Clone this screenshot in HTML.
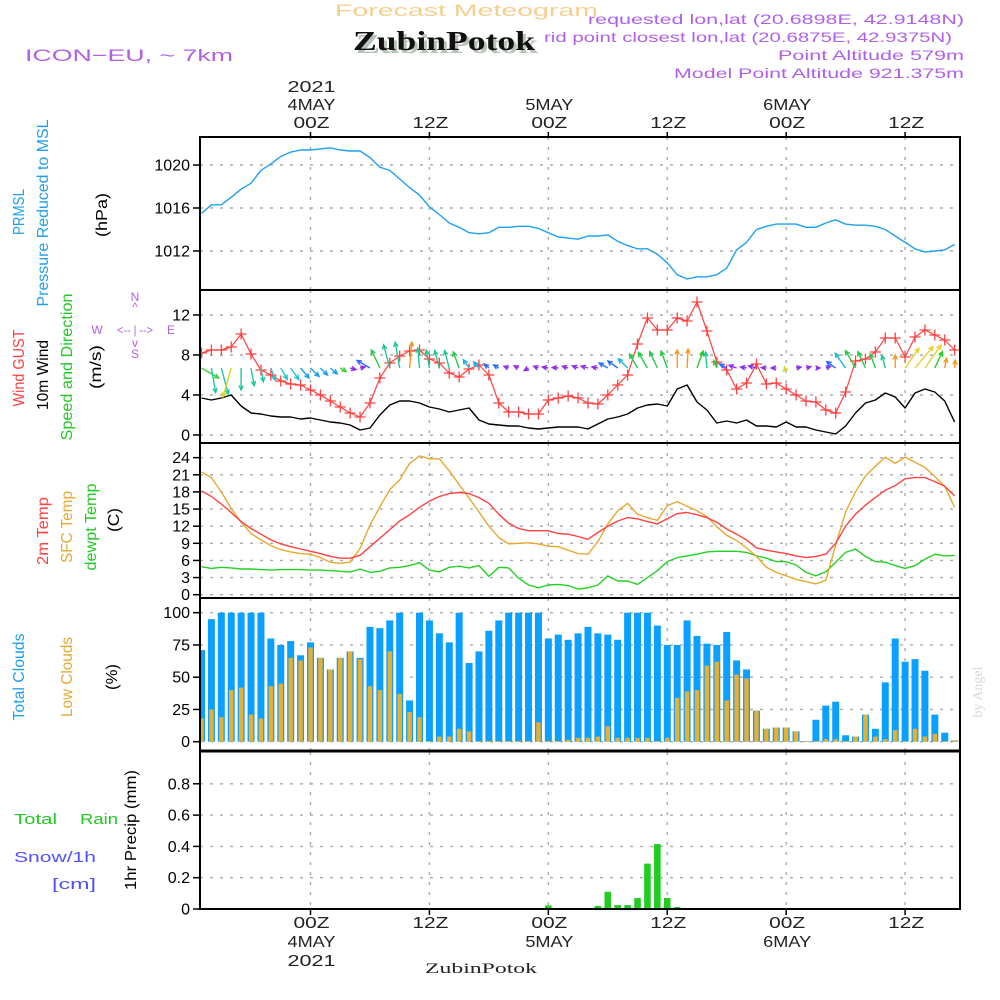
<!DOCTYPE html>
<html><head><meta charset="utf-8"><title>Meteogram ZubinPotok</title>
<style>
html,body{margin:0;padding:0;background:#fff;}
svg{display:block;font-family:"Liberation Sans",sans-serif;}
</style></head>
<body>
<svg id="chart" width="1000" height="1000" viewBox="0 0 1000 1000" xmlns="http://www.w3.org/2000/svg">
  <defs>
    <clipPath id="cp1"><rect x="200" y="137" width="760" height="153"/></clipPath>
    <clipPath id="cp2"><rect x="200" y="290" width="760" height="153"/></clipPath>
    <clipPath id="cp3"><rect x="200" y="443" width="760" height="155"/></clipPath>
    <clipPath id="cp4"><rect x="200" y="598" width="760" height="153"/></clipPath>
    <clipPath id="cp5"><rect x="200" y="752" width="760" height="157"/></clipPath>
  </defs>
  <!-- header -->
  <text x="335" y="16" fill="#f5cf8e" font-size="17" textLength="263" lengthAdjust="spacingAndGlyphs">Forecast Meteogram</text>
  <text x="356" y="53" fill="#b8c4b8" font-family="Liberation Serif, serif" font-weight="bold" font-size="27" textLength="182" lengthAdjust="spacingAndGlyphs">ZubinPotok</text>
  <text x="25" y="61" fill="#b060e8" font-size="17" textLength="208" lengthAdjust="spacingAndGlyphs">ICON−EU, ~ 7km</text>
  <text x="964" y="24" text-anchor="end" fill="#b060e8" font-size="14" textLength="376" lengthAdjust="spacingAndGlyphs">requested lon,lat (20.6898E, 42.9148N)</text>
  <text x="952" y="42" text-anchor="end" fill="#b060e8" font-size="14" textLength="408" lengthAdjust="spacingAndGlyphs">rid point closest lon,lat (20.6875E, 42.9375N)</text>
  <text x="964" y="60" text-anchor="end" fill="#b060e8" font-size="14" textLength="186" lengthAdjust="spacingAndGlyphs">Point Altitude 579m</text>
  <text x="964" y="78" text-anchor="end" fill="#b060e8" font-size="14" textLength="290" lengthAdjust="spacingAndGlyphs">Model Point Altitude 921.375m</text>
  <text x="353" y="50" fill="#111" font-family="Liberation Serif, serif" font-weight="bold" font-size="27" textLength="182" lengthAdjust="spacingAndGlyphs">ZubinPotok</text>

  <!-- left panel labels -->
  <g font-size="16">
    <text transform="translate(24,212) rotate(-90)" text-anchor="middle" fill="#1ea0f0" textLength="46" lengthAdjust="spacingAndGlyphs">PRMSL</text>
    <text transform="translate(48,213) rotate(-90)" text-anchor="middle" fill="#1ea0f0" textLength="187" lengthAdjust="spacingAndGlyphs">Pressure Reduced to MSL</text>
    <text transform="translate(107,215) rotate(-90)" text-anchor="middle" fill="#000" textLength="44" lengthAdjust="spacingAndGlyphs">(hPa)</text>
    <text transform="translate(24,368) rotate(-90)" text-anchor="middle" fill="#ff4040" textLength="77" lengthAdjust="spacingAndGlyphs">Wind GUST</text>
    <text transform="translate(48,375) rotate(-90)" text-anchor="middle" fill="#000" textLength="70" lengthAdjust="spacingAndGlyphs">10m Wind</text>
    <text transform="translate(72,367) rotate(-90)" text-anchor="middle" fill="#22c822" textLength="147" lengthAdjust="spacingAndGlyphs">Speed and Direction</text>
    <text transform="translate(101,367) rotate(-90)" text-anchor="middle" fill="#000" textLength="44" lengthAdjust="spacingAndGlyphs">(m/s)</text>
    <text transform="translate(48,531) rotate(-90)" text-anchor="middle" fill="#ff4040" textLength="68" lengthAdjust="spacingAndGlyphs">2m Temp</text>
    <text transform="translate(72,527) rotate(-90)" text-anchor="middle" fill="#e8a830" textLength="72" lengthAdjust="spacingAndGlyphs">SFC Temp</text>
    <text transform="translate(96,527) rotate(-90)" text-anchor="middle" fill="#22c822" textLength="87" lengthAdjust="spacingAndGlyphs">dewpt Temp</text>
    <text transform="translate(119,520) rotate(-90)" text-anchor="middle" fill="#000" textLength="24" lengthAdjust="spacingAndGlyphs">(C)</text>
    <text transform="translate(24,677) rotate(-90)" text-anchor="middle" fill="#1ea0f0" textLength="87" lengthAdjust="spacingAndGlyphs">Total Clouds</text>
    <text transform="translate(72,677) rotate(-90)" text-anchor="middle" fill="#e8a830" textLength="80" lengthAdjust="spacingAndGlyphs">Low Clouds</text>
    <text transform="translate(117,677) rotate(-90)" text-anchor="middle" fill="#000" textLength="26" lengthAdjust="spacingAndGlyphs">(%)</text>
    <text transform="translate(136,830) rotate(-90)" text-anchor="middle" fill="#000" textLength="120" lengthAdjust="spacingAndGlyphs">1hr Precip (mm)</text>
  </g>
  <g font-size="15">
    <text x="14" y="824" fill="#22c822" textLength="43" lengthAdjust="spacingAndGlyphs">Total</text>
    <text x="80" y="824" fill="#22c822" textLength="38" lengthAdjust="spacingAndGlyphs">Rain</text>
    <text x="14" y="862" fill="#5050ff" textLength="82" lengthAdjust="spacingAndGlyphs">Snow/1h</text>
    <text x="52" y="889" fill="#5050ff" textLength="44" lengthAdjust="spacingAndGlyphs">[cm]</text>
  </g>
  <!-- compass -->
  <g fill="#b060e8" font-size="12" text-anchor="middle">
    <text x="135" y="301">N</text>
    <text x="135" y="311">^</text>
    <text x="97" y="334">W</text>
    <text x="135" y="334" textLength="36" lengthAdjust="spacingAndGlyphs">&lt;-- | --&gt;</text>
    <text x="171" y="334">E</text>
    <text x="135" y="347">v</text>
    <text x="135" y="358">S</text>
  </g>
  <text transform="translate(982,692) rotate(-90)" text-anchor="middle" fill="#d8d8d8" font-family="Liberation Serif, serif" font-size="14">by Angel</text>
  <text x="425" y="973" fill="#222" font-family="Liberation Serif, serif" font-size="15" textLength="112" lengthAdjust="spacingAndGlyphs">ZubinPotok</text>

  <g id="grid"></g>
  <g id="marks"></g>
  <g id="frame"></g>
  <g id="axes"></g>
</svg>
<script>
// ---- data (hourly, first hour = -11 relative to 00Z 4 May 2021) ----
const startHour = -11;
const pressure = [1015.5,1016.3,1016.3,1017.0,1017.75,1018.3,1019.5,1020.1,1020.8,1021.2,1021.4,
1021.4,1021.5,1021.6,1021.4,1021.3,1021.3,1020.7,1019.8,1019.5,1018.7,1017.9,1017.2,
1016.1,1015.4,1014.6,1014.2,1013.7,1013.6,1013.7,1014.2,1014.2,1014.3,1014.3,1014.1,
1013.7,1013.3,1013.2,1013.1,1013.4,1013.4,1013.5,1012.9,1012.5,1012.2,1012.2,1011.7,
1010.9,1009.8,1009.4,1009.6,1009.6,1009.8,1010.4,1012.1,1012.8,1014.0,1014.3,1014.5,
1014.5,1014.5,1014.2,1014.2,1014.6,1014.9,1014.5,1014.4,1014.4,1014.3,1014.0,1013.4,
1012.8,1012.2,1011.9,1012.0,1012.1,1012.6];
const windGust = [8.2,8.5,8.5,8.8,10.1,8.1,6.5,6.0,5.4,5.1,5.0,
4.5,4.0,3.4,2.8,2.2,1.8,3.2,5.7,7.2,7.9,8.4,8.5,
7.6,7.2,6.2,5.8,6.6,7.0,6.0,3.2,2.3,2.3,2.1,2.1,
3.5,3.7,3.9,3.7,3.2,3.1,4.0,5.0,6.0,9.1,11.7,10.5,
10.5,11.7,11.4,13.3,10.4,7.3,6.5,4.6,5.2,7.1,5.1,5.2,
4.6,4.0,3.4,3.3,2.5,2.2,4.3,7.4,7.6,8.3,9.7,9.7,
7.8,9.8,10.5,10.0,9.5,8.5];
const wind10m = [3.7,3.5,3.7,4.0,2.9,2.2,2.1,1.9,1.8,1.8,1.6,
1.7,1.5,1.3,1.2,1.0,0.5,0.7,2.0,3.0,3.4,3.4,3.2,
2.8,2.6,2.3,2.5,2.7,1.5,1.1,1.0,0.9,0.9,0.7,0.6,
0.7,0.8,0.8,0.8,0.6,1.1,1.6,1.8,2.1,2.7,3.0,3.1,
2.9,4.6,5.0,3.3,2.5,1.2,1.4,1.2,1.5,0.9,0.9,0.8,
1.3,0.8,0.8,0.5,0.3,0.1,0.9,2.2,3.2,3.5,4.2,3.8,
2.7,4.2,4.6,4.3,3.4,1.3];
const arrowDir = [120,170,165,196,180,170,170,160,150,145,140,
135,135,130,120,105,80,300,335,345,350,5,355,
350,345,345,340,325,320,310,300,290,295,240,290,
280,275,285,290,285,280,300,305,315,330,330,335,
340,0,3,20,355,340,300,290,280,285,275,270,
220,80,75,90,70,305,325,330,335,340,345,0,
35,40,35,25,10,5];
const arrowLen = [20,25,27,30,22,18,14,13,13,14,13,
12,10,9,7,6,5,15,20,24,26,26,20,
18,18,18,17,10,8,6,6,5,5,5,5,
6,6,6,6,7,6,10,12,13,16,18,18,
18,18,19,18,16,8,8,8,6,8,5,5,
4,5,5,4,5,11,18,20,18,15,13,13,
24,28,28,18,10,8];
const temp2m = [18.2,17.2,15.9,14.4,12.8,11.6,10.6,9.6,8.9,8.4,8.0,
7.6,7.2,6.7,6.4,6.4,6.9,8.4,9.9,11.4,12.9,14.0,15.3,
16.4,17.2,17.7,17.9,17.7,17.0,16.0,14.1,12.5,11.6,11.2,11.2,
11.2,10.7,10.6,10.2,9.7,10.9,12.0,12.9,13.5,13.3,12.8,12.4,
13.3,14.2,14.4,14.0,13.5,12.7,11.5,10.6,9.6,8.2,7.8,7.5,
7.2,6.8,6.5,6.7,7.1,9.0,12.0,14.1,15.7,17.0,18.3,19.1,
20.3,20.5,20.5,19.8,19.0,17.3];
const tempSfc = [21.5,20.5,18.0,15.1,12.7,10.7,9.6,8.6,7.9,7.5,7.2,
7.1,6.5,5.7,5.5,5.7,8.1,12.2,15.4,18.4,20.1,23.0,24.3,
23.8,23.8,21.7,19.3,16.9,14.5,12.0,10.0,8.9,9.0,9.1,8.9,
8.5,8.4,7.8,7.2,7.1,9.3,12.4,14.7,16.0,14.1,13.5,13.0,
15.6,16.3,15.5,14.7,13.7,11.9,10.4,9.5,8.2,6.7,4.8,3.9,
3.3,2.7,2.3,1.9,2.5,8.7,14.5,18.0,20.8,22.5,24.1,23.0,
24.1,23.2,22.3,20.7,19.0,15.3];
const tempDew = [4.9,4.6,4.8,4.7,4.5,4.5,4.4,4.3,4.4,4.4,4.4,
4.3,4.3,4.2,4.1,4.0,4.5,3.9,4.1,4.7,4.8,5.1,5.6,
4.3,4.0,4.8,5.0,4.7,5.1,3.2,4.8,4.7,2.9,1.7,1.2,
1.7,1.8,1.6,1.0,1.2,1.7,3.3,2.4,2.4,1.8,3.0,4.2,
5.8,6.5,6.8,7.1,7.5,7.6,7.6,7.6,7.4,6.8,6.4,5.8,
5.8,5.2,3.9,3.3,4.0,5.7,7.4,8.0,6.7,5.8,5.7,5.1,
4.6,5.1,6.2,7.1,6.8,6.9];
const totalClouds = [71,95,100,100,100,100,100,80,75,78,67,
77,65,56,65,70,65,89,88,94,100,32,100,
94,84,77,100,61,70,86,94,100,100,100,100,
80,83,79,84,89,84,83,79,100,100,100,90,
75,75,94,82,76,75,85,63,56,24,10,11,
11,8,0.5,17,28,31,5,4,21,10,46,80,
62,64,55,21,7,1];
const lowClouds = [18,25,19,40,42,21,18,43,45,65,63,
73,65,56,65,70,64,43,40,70,37,23,19,
0.5,4,4,10,8,0.5,0.5,0.5,0.5,0.5,0.5,15,
0.5,0.5,1.5,3,3,4,12,3,3,3,3,0.5,
3,34,39,40,59,62,32,52,49,24,10,11,
11,8,0.5,0.5,2,2,0.5,4,21,4,2,9,
0.5,10,4,6,0.5,1];
const precip = [0,0,0,0,0,0,0,0,0,0,0,
0,0,0,0,0,0,0,0,0,0,0,0,
0,0,0,0,0,0,0,0,0,0,0,0,
0.023,0,0,0,0,0.02,0.11,0.025,0.025,0.07,0.29,0.415,
0.07,0.013,0,0,0,0,0,0,0,0,0,0,
0,0,0,0,0,0,0,0,0,0,0,0,
0,0,0,0,0,0];
const pressureTicks = [1020,1016,1012];
const windTicks = [12,8,4,0];
const tempTicks = [24,21,18,15,12,9,6,3,0];
const cloudTicks = [100,75,50,25,0];
const precipTicks = [0.8,0.6,0.4,0.2,0];
const timeTicksHours = [0,12,24,36,48,60];
const timeTickTime = ["00Z","12Z","00Z","12Z","00Z","12Z"];
const timeTickDate = ["4MAY","","5MAY","","6MAY",""];
const timeTickYear = ["2021","","","","",""];

// ---- scales ----
const X0 = 200, X1 = 960;
function xS(h){ return 310.5 + 9.91*h; }
function yP(v){ return 165 + (1020 - v)*10.75; }
function yW(v){ return 435 - v*10; }
function yT(v){ return 594.7 - v*5.71; }
function yC(v){ return 741.7 - v*1.29; }
function yR(v){ return 909 - v*156.5; }

const NS = "http://www.w3.org/2000/svg";
function mk(tag, attrs, parent){
  const e = document.createElementNS(NS, tag);
  for (const k in attrs) e.setAttribute(k, attrs[k]);
  parent.appendChild(e);
  return e;
}
const grid = document.getElementById('grid');
const marks = document.getElementById('marks');
const frame = document.getElementById('frame');
const axes = document.getElementById('axes');

const panels = [
  {top:137,bot:290,ticks:pressureTicks,ys:yP,fmt:v=>String(v),clip:'cp1',name:'pressure'},
  {top:290,bot:443,ticks:windTicks,ys:yW,fmt:v=>String(v),clip:'cp2',name:'wind'},
  {top:443,bot:598,ticks:tempTicks,ys:yT,fmt:v=>String(v),clip:'cp3',name:'temperature'},
  {top:598,bot:751,ticks:cloudTicks,ys:yC,fmt:v=>String(v),clip:'cp4',name:'clouds'},
  {top:752,bot:909,ticks:precipTicks,ys:yR,fmt:v=>v===0?'0':v.toFixed(1),clip:'cp5',name:'precip'}
];

panels.forEach(p=>{
  p.ticks.forEach(t=>{
    const y = p.ys(t);
    const gl = mk('line',{x1:X0,x2:X1,y1:y,y2:y,stroke:'#aaa','stroke-width':1.4,'stroke-dasharray':'3,7'},grid);
    
    
    const tk = mk('line',{x1:X0-7,x2:X0,y1:y,y2:y,stroke:'#000','stroke-width':1.5},axes);
    
    
    const tl = mk('text',{x:X0-10,y:y+5.5,'text-anchor':'end','font-size':16,fill:'#000'},axes);
    
    
    tl.textContent = p.fmt(t);
  });
  timeTicksHours.forEach(h=>{
    const x = xS(h);
    const vl = mk('line',{x1:x,x2:x,y1:p.top,y2:p.bot,stroke:'#aaa','stroke-width':1.4,'stroke-dasharray':'3,7'},grid);
    
    
  });
});

const fr = mk('rect',{x:X0,y:137,width:X1-X0,height:772,fill:'none',stroke:'#000','stroke-width':2},frame);


[290,443,598,751].forEach(y=>{
  const l = mk('line',{x1:X0,x2:X1,y1:y,y2:y,stroke:'#000','stroke-width':y===751?3:2},frame);
  
  
});

timeTicksHours.forEach((h,i)=>{
  const x = xS(h)+1;
  const t1 = mk('line',{x1:x-1,x2:x-1,y1:132,y2:137,stroke:'#000','stroke-width':1.5},axes);
  
  
  const t2 = mk('line',{x1:x-1,x2:x-1,y1:909,y2:915,stroke:'#000','stroke-width':1.5},axes);
  
  
  const lab = [[timeTickYear[i],92],[timeTickDate[i],110],[timeTickTime[i],128]];
  lab.forEach(([s,y])=>{
    if(!s) return;
    const t = mk('text',{x:x,y:y,'text-anchor':'middle','font-size':16,fill:'#222',textLength:s.length*12,lengthAdjust:'spacingAndGlyphs'},axes);
    
    
    t.textContent = s;
  });
  const lab2 = [[timeTickTime[i],928],[timeTickDate[i],947],[timeTickYear[i],966]];
  lab2.forEach(([s,y])=>{
    if(!s) return;
    const t = mk('text',{x:x,y:y,'text-anchor':'middle','font-size':16,fill:'#222',textLength:s.length*12,lengthAdjust:'spacingAndGlyphs'},axes);
    
    
    t.textContent = s;
  });
});

function series(arr, ys, color, name, clip, width){
  const pts = arr.map((v,i)=>xS(startHour+i).toFixed(1)+','+ys(v).toFixed(1)).join(' ');
  const g = mk('g',{'clip-path':'url(#'+clip+')'},marks);
  const pl = mk('polyline',{points:pts,fill:'none',stroke:color,'stroke-width':width||1.4,'stroke-linejoin':'round'},g);
  
  
  return g;
}

series(pressure, yP, '#1ea0f0', 'pressure-line', 'cp1');

series(wind10m, yW, '#000', 'wind-10m-line', 'cp2');
const gg = series(windGust, yW, '#ff4040', 'wind-gust-line', 'cp2', 1.2);
windGust.forEach((v,i)=>{
  const x = xS(startHour+i), y = yW(v);
  const m = mk('path',{d:`M${x-5.5},${y}H${x+5.5}M${x},${y-5.5}V${y+5.5}`,stroke:'#ff4040','stroke-width':1.3},gg);
  
  
});
function arrowColor(d){
  if (d<12) return '#f39a1e';
  if (d<30) return '#22cc22';
  if (d<60) return '#e8d030';
  if (d<110) return '#8e2ee8';
  if (d<125) return '#40d040';
  if (d<145) return '#1aa0f0';
  if (d<165) return '#1ec8d0';
  if (d<190) return '#20c8a0';
  if (d<240) return '#d8d828';
  if (d<298) return '#8e2ee8';
  if (d<315) return '#2c6cff';
  if (d<328) return '#1eb4e0';
  if (d<345) return '#22cc44';
  return '#20c890';
}
const ag = mk('g',{'clip-path':'url(#cp2)'},marks);
arrowDir.forEach((d,i)=>{
  const x0 = xS(startHour+i), y0 = 368;
  const r = d*Math.PI/180, L = arrowLen[i];
  const x1 = x0 + L*Math.sin(r), y1 = y0 - L*Math.cos(r);
  const hl = 5, a1 = r+Math.PI-0.45, a2 = r+Math.PI+0.45;
  const c = arrowColor(d);
  const p = mk('path',{d:`M${x0.toFixed(1)},${y0}L${x1.toFixed(1)},${y1.toFixed(1)}M${(x1+hl*Math.sin(a1)).toFixed(1)},${(y1-hl*Math.cos(a1)).toFixed(1)}L${x1.toFixed(1)},${y1.toFixed(1)}L${(x1+hl*Math.sin(a2)).toFixed(1)},${(y1-hl*Math.cos(a2)).toFixed(1)}`,stroke:c,'stroke-width':1.4,fill:'none'},ag);
  
  
});

series(tempDew, yT, '#22d022', 'dewpoint-line', 'cp3');
series(tempSfc, yT, '#e8a830', 'sfc-temp-line', 'cp3');
series(temp2m, yT, '#ff4040', '2m-temp-line', 'cp3');

const cg = mk('g',{'clip-path':'url(#cp4)'},marks);
totalClouds.forEach((v,i)=>{
  const x = xS(startHour+i), y = yC(v);
  const b = mk('rect',{x:x-3.5,y:y,width:7,height:Math.max(yC(0)-y,0.8),fill:'#0aa0ff'},cg);
  
  
});
lowClouds.forEach((v,i)=>{
  const x = xS(startHour+i), y = yC(v);
  const b = mk('rect',{x:x-2.2,y:y,width:4.4,height:Math.max(yC(0)-y,0.8),fill:'#e8b030'},cg);
  
  
});

const pg = mk('g',{'clip-path':'url(#cp5)'},marks);
precip.forEach((v,i)=>{
  if (v<=0) return;
  const x = xS(startHour+i), y = yR(v);
  const b = mk('rect',{x:x-3.3,y:y,width:6.6,height:yR(0)-y,fill:'#22cc22'},pg);
  
  
});
</script>
</body></html>
